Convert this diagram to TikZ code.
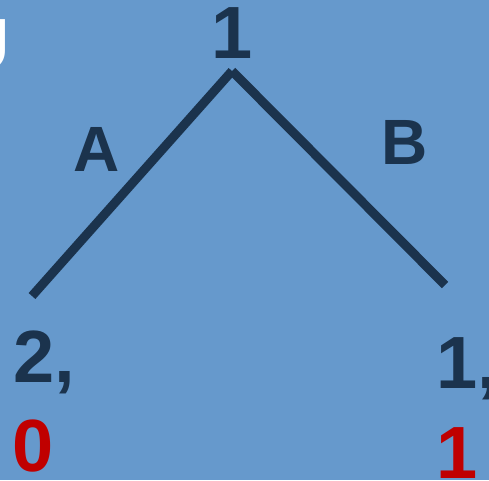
\documentclass[tikz,border=0pt]{standalone}
\usepackage{fontspec}
\setmainfont{Liberation Sans}
\usetikzlibrary{positioning}

\definecolor{bgblue}{RGB}{102,153,204}
\definecolor{navy}{RGB}{27,51,77}
\definecolor{payred}{RGB}{192,0,0}

\begin{document}
\begin{tikzpicture}[
    x=1pt, y=-1pt,
    font=\bfseries,
    digit/.style={
        inner sep=0pt,
        text=navy,
        font=\fontsize{74}{74}\selectfont\bfseries
    },
    payoff/.style={digit, text=payred},
    move/.style={
        inner sep=0pt,
        text=navy,
        font=\fontsize{64}{64}\selectfont\bfseries
    },
    branch/.style={draw=navy, line width=9pt, line cap=butt}
]

    \fill [bgblue] (0,0) rectangle (489,480);
    \useasboundingbox (0,0) rectangle (489,480);

    % cut-off title at the left edge
    \node (title) [digit, text=white, anchor=base east] at (10,70) {U};

    \node (player) [digit, anchor=base] at (232,58) {1};

    \coordinate (root) at (232,71);
    \coordinate (leafA) at (32,296);
    \coordinate (leafB) at (445,285);

    \node (moveA) [move, anchor=base] at (97,171) {A};
    \node (moveB) [move, anchor=base] at (405,164) {B};

    \node (payA) [digit, anchor=base west] at (13,382) {2,};
    \node (redA) [payoff, anchor=base west] at (12,471) {0};

    \node (payB) [digit, anchor=base west] at (436,388) {1,};
    \node (redB) [payoff, anchor=base west] at (436,478) {1};

    \draw [branch] (root) -- (leafA);
    \draw [branch] (root) -- (leafB);

\end{tikzpicture}
\end{document}
